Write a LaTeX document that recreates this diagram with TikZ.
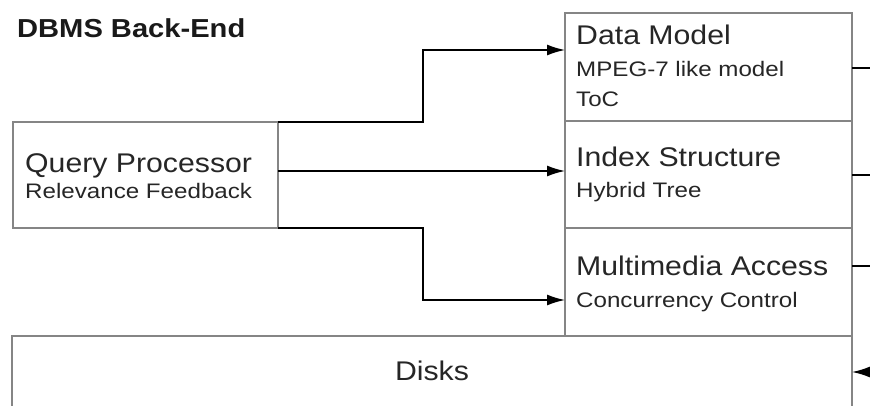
\documentclass[tikz,border=0pt]{standalone}
\usepackage{fontspec}
\setmainfont{Liberation Sans}[FakeStretch=1.12]
\newfontfamily\subf{Liberation Sans}[FakeStretch=1.15]
\usetikzlibrary{arrows.meta}
\begin{document}
\begin{tikzpicture}[x=1pt,y=-1pt,
  box/.style={draw=black!48,line width=2.6pt,fill=none,inner sep=0pt,outer sep=0pt,anchor=north west},
  arr/.style={draw=black,line width=1.6pt,-{Latex[length=18pt,width=11pt]}},
  stub/.style={draw=black,line width=1.3pt},
  main/.style={anchor=base west,inner sep=0pt,text=black!85,font=\fontsize{27}{30}\selectfont},
  sub/.style={anchor=base west,inner sep=0pt,text=black!85,font=\subf\fontsize{21}{24}\selectfont}]
\useasboundingbox (0,0) rectangle (870,406);
\clip (0,0) rectangle (870,406);
\fill[white] (0,0) rectangle (870,406);

\node[anchor=base west,inner sep=0pt,text=black!90,font=\bfseries\fontsize{26}{30}\selectfont] (title) at (17,38) {DBMS Back-End};

\node[box,minimum width=287pt,minimum height=108pt] (dm) at (565,13) {};
\node[box,minimum width=287pt,minimum height=107pt] (is) at (565,121) {};
\node[box,minimum width=287pt,minimum height=108pt] (ma) at (565,228) {};
\node[box,minimum width=840pt,minimum height=90pt] (disks) at (12,336) {};
\node[box,minimum width=265pt,minimum height=106pt] (qp) at (13,122) {};

\node[main] (t1) at (576,45) {Data Model};
\node[sub] (t2) at (576,77) {MPEG-7 like model};
\node[sub] (t3) at (576,107) {ToC};
\node[main] (t4) at (576,167) {Index Structure};
\node[sub] (t5) at (576,198) {Hybrid Tree};
\node[main] (t6) at (576,275) {Multimedia Access};
\node[sub] (t7) at (576,307) {Concurrency Control};
\node[main] (t8) at (25,173) {Query Processor};
\node[sub] (t9) at (25,199) {Relevance Feedback};
\node[anchor=base,inner sep=0pt,text=black!85,font=\fontsize{27}{30}\selectfont] (t10) at (432,380) {Disks};

\coordinate (a1) at (423,122);
\coordinate (a2) at (423,50);
\coordinate (b1) at (278,171);
\coordinate (c1) at (423,228);
\coordinate (c2) at (423,300);
\draw[arr] (qp.north east) -- (a1) -- (a2) -- (dm.west |- a2);
\draw[arr] (b1) -- (is.west |- b1);
\draw[arr] (qp.south east) -- (c1) -- (c2) -- (ma.west |- c2);

\coordinate (r1) at (880,68);
\coordinate (r2) at (880,175);
\coordinate (r3) at (880,266);
\coordinate (r4) at (890,372);
\draw[stub] (dm.east |- r1) -- (r1);
\draw[stub] (is.east |- r2) -- (r2);
\draw[stub] (ma.east |- r3) -- (r3);
\draw[arr] (r4) -- (disks.east |- r4);
\end{tikzpicture}
\end{document}
